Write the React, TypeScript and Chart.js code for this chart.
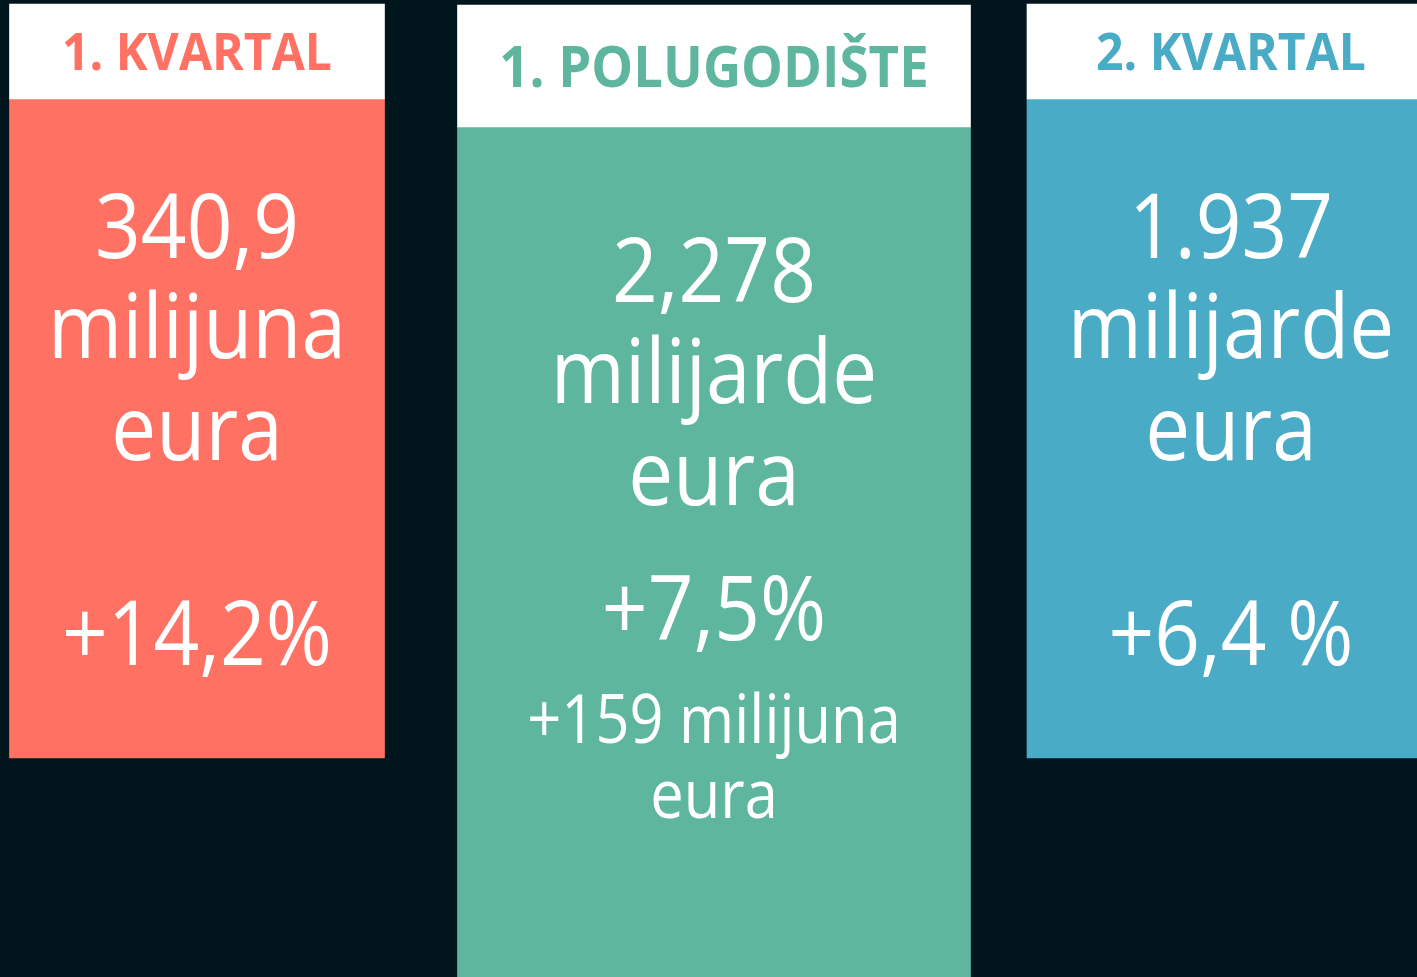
import React, { useEffect, useRef } from 'react';
import { Chart, registerables } from 'chart.js';

Chart.register(...registerables);

// ---- data ----
const categories = ['1. KVARTAL', '1. POLUGODIŠTE', '2. KVARTAL'];
const amountValues = ['340,9', '2,278', '1.937'];
const amountUnits = ['milijuna', 'milijarde', 'milijarde'];
const currencyLabels = ['eura', 'eura', 'eura'];
const changePercent = ['+14,2%', '+7,5%', '+6,4 %'];
const changeAbsolute = ['', '+159 milijuna', ''];
const changeAbsoluteUnit = ['', 'eura', ''];

// ---- styles / layout ----
const BG = '#01151d';
const panelColors = ['#ff7163', '#5db69d', '#4aabc6'];
const panelWidths = [375, 513, 408];
const headerRanges: [number, number][] = [[4, 99], [5, 127], [4, 99]];
const bodyRanges: [number, number][] = [[99, 758], [127, 980], [99, 758]];
const headerFontSizes = [52, 57, 52];
const textBaselines = [
  [258, 358, 460, 665],
  [302, 403, 505, 640, 743, 818],
  [258, 358, 460, 665],
];
const lineFontSizes = [90, 90, 90, 90, 67, 67];
const BODY_SX = 0.89;
const HEAD_SX = 0.925;
const FONT = '"Open Sans", "Noto Sans", sans-serif';

function drawScaled(ctx: any, text: string, x: number, y: number, sx: number) {
  ctx.save();
  ctx.translate(x, y);
  ctx.scale(sx, 1);
  ctx.fillText(text, 0, 0);
  ctx.restore();
}

const textPlugin = {
  id: 'panelText',
  afterDatasetsDraw(chart: any) {
    const ctx = chart.ctx;
    const yScale = chart.scales.y;
    ctx.save();
    ctx.textAlign = 'center';
    ctx.textBaseline = 'alphabetic';
    categories.forEach((cat, i) => {
      const meta = chart.getDatasetMeta(i * 2);
      const el = meta.data[i];
      if (!el) return;
      const cx = el.x;
      // header title
      const fs = headerFontSizes[i];
      ctx.font = `700 ${fs}px ${FONT}`;
      ctx.fillStyle = panelColors[i];
      const top = yScale.getPixelForValue(headerRanges[i][0]);
      const bot = yScale.getPixelForValue(headerRanges[i][1]);
      const mid = (top + bot) / 2;
      drawScaled(ctx, cat, cx, mid + fs * 0.36, HEAD_SX);
      // body lines
      const lines = [
        amountValues[i],
        amountUnits[i],
        currencyLabels[i],
        changePercent[i],
        changeAbsolute[i],
        changeAbsoluteUnit[i],
      ].filter((s) => s !== '');
      ctx.fillStyle = '#ffffff';
      lines.forEach((line, j) => {
        ctx.font = `400 ${lineFontSizes[j]}px ${FONT}`;
        drawScaled(ctx, line, cx, yScale.getPixelForValue(textBaselines[i][j]), BODY_SX);
      });
    });
    ctx.restore();
  },
};

export default function App() {
  const ref = useRef<HTMLCanvasElement | null>(null);
  useEffect(() => {
    if (!ref.current) return;
    const datasets: any[] = [];
    categories.forEach((_, i) => {
      const headerData: any[] = categories.map(() => null);
      headerData[i] = headerRanges[i];
      const bodyData: any[] = categories.map(() => null);
      bodyData[i] = bodyRanges[i];
      datasets.push({
        label: categories[i] + ' header',
        data: headerData,
        backgroundColor: '#ffffff',
        barThickness: panelWidths[i],
        grouped: false,
        borderWidth: 0,
        clip: false,
      });
      datasets.push({
        label: categories[i],
        data: bodyData,
        backgroundColor: panelColors[i],
        barThickness: panelWidths[i],
        grouped: false,
        borderWidth: 0,
        clip: false,
      });
    });
    const chart = new Chart(ref.current, {
      type: 'bar',
      data: { labels: categories, datasets },
      options: {
        animation: false,
        responsive: false,
        maintainAspectRatio: false,
        layout: { padding: { left: 197, right: 186, top: 0, bottom: 0 } },
        plugins: { legend: { display: false }, tooltip: { enabled: false } },
        scales: {
          x: { type: 'category', offset: false, display: false, grid: { display: false } },
          y: { type: 'linear', min: 0, max: 977, reverse: true, display: false, grid: { display: false } },
        },
      },
      plugins: [textPlugin],
    });
    return () => chart.destroy();
  }, []);
  return (
    <div style={{ position: 'fixed', left: 0, top: 0, width: 1417, height: 977, background: BG, overflow: 'hidden' }}>
      <canvas ref={ref} width={1417} height={977} style={{ display: 'block', width: 1417, height: 977 }} />
    </div>
  );
}
